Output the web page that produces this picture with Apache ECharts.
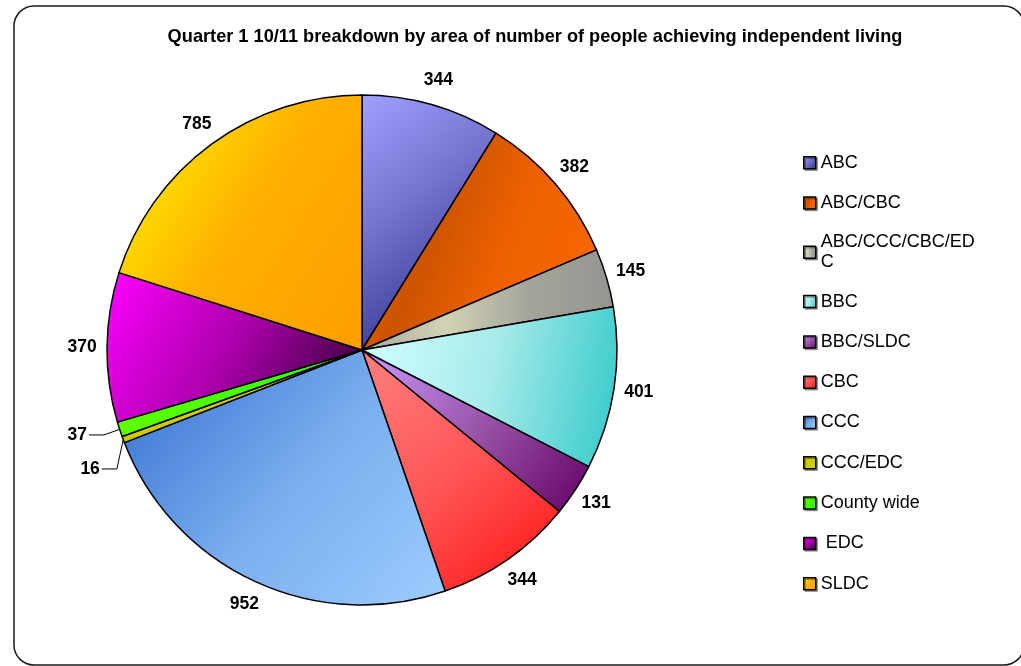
<!DOCTYPE html>
<html><head><meta charset="utf-8">
<script src="https://cdn.jsdelivr.net/npm/echarts@6/dist/echarts.min.js"></script>
<style>html,body{margin:0;padding:0;background:#fff}#c{width:1021px;height:666px}</style>
</head><body><div id="c"></div>
<script>
const titleText = 'Quarter 1 10/11 breakdown by area of number of people achieving independent living';
const categories = ['ABC', 'ABC/CBC', 'ABC/CCC/CBC/EDC', 'BBC', 'BBC/SLDC', 'CBC', 'CCC', 'CCC/EDC', 'County wide', ' EDC', 'SLDC'];
const values = [344, 382, 145, 401, 131, 344, 952, 16, 37, 370, 785];
const legendLabels = ['ABC', 'ABC/CBC', 'ABC/CCC/CBC/ED\nC', 'BBC', 'BBC/SLDC', 'CBC', 'CCC', 'CCC/EDC', 'County wide', ' EDC', 'SLDC'];

const FONT = 'Arial, "Liberation Sans", sans-serif';
const G = (x, y, x2, y2, stops) => new echarts.graphic.LinearGradient(x, y, x2, y2,
  stops.map((c, i) => ({ offset: i / (stops.length - 1), color: c })));
const fills = [
  G(0, 0, 1, 0.7, ['#a0a0ff', '#7474d0', '#3a3a98']),
  G(0, 0.2, 1, 0.6, ['#ec6200', '#cc5400', '#f06200', '#f56600']),
  G(0, 0.5, 1, 0.5, ['#a8a8a0', '#d2d2b4', '#a4a49c', '#959590']),
  G(0, 0.3, 1, 0.6, ['#d0ffff', '#a8eaea', '#3ccccc']),
  G(0, 0, 1, 1, ['#cc99ff', '#9955aa', '#660066']),
  G(0, 0, 1, 1, ['#ff8080', '#ff5555', '#ff1010']),
  G(0.1, 0, 1, 1, ['#3b74d4', '#7aaeee', '#9ccdff']),
  G(0, 0, 1, 1, ['#cccc00', '#cccc00']),
  G(0, 0, 1, 1, ['#66ff00', '#22ff00']),
  G(0, 0, 1, 1, ['#ff00ff', '#aa00aa', '#2a002a']),
  G(0, 0.2, 1, 0.8, ['#fff000', '#ffb000', '#ffa000'])
];

const total = values.reduce((a, b) => a + b, 0);
const isSmall = values.map(v => v / total < 0.02);

const data = categories.map((name, i) => ({
  name: name,
  value: values[i],
  itemStyle: { color: fills[i] },
  label: isSmall[i] ? { lineHeight: 32, distanceToLabelLine: 2 } : { distanceToLabelLine: 0 },
  labelLine: isSmall[i] ? { show: true, length: 18, length2: 15 } : { show: false, length: 25, length2: 0 }
}));

const chart = echarts.init(document.getElementById('c'), null, { renderer: 'canvas' });
chart.setOption({
  animation: false,
  backgroundColor: '#fff',
  graphic: [{
    type: 'rect', silent: true, z: -1,
    shape: { x: 14, y: 6, width: 1010, height: 659, r: 20 },
    style: { fill: 'none', stroke: '#1a1a1a', lineWidth: 1.5 }
  }],
  title: {
    text: titleText, left: 530, top: 23, textAlign: 'center',
    textStyle: { fontFamily: FONT, fontSize: 18.2, fontWeight: 'bold', color: '#000' }
  },
  legend: {
    orient: 'vertical', left: 803, top: 152.7, padding: 0,
    itemWidth: 12, itemHeight: 12, itemGap: 20.3, icon: 'rect',
    data: categories,
    formatter: name => legendLabels[categories.indexOf(name)],
    itemStyle: { borderColor: '#000', borderWidth: 1.5, shadowColor: 'rgba(0,0,0,0.35)', shadowBlur: 0, shadowOffsetX: 1.5, shadowOffsetY: 1.5 },
    textStyle: { fontFamily: FONT, fontSize: 18, color: '#000', lineHeight: 20, height: 20 },
    selectedMode: false
  },
  series: [{
    type: 'pie',
    center: [362, 350], radius: 255,
    startAngle: 90, clockwise: true,
    avoidLabelOverlap: true,
    emphasis: { disabled: true },
    itemStyle: { borderColor: '#000', borderWidth: 1.5 },
    label: {
      show: true, position: 'outside', formatter: '{c}',
      fontFamily: FONT, fontSize: 17.5, fontWeight: 'bold', color: '#000'
    },
    labelLine: { lineStyle: { color: '#000', width: 1 } },
    labelLayout: p => isSmall[p.dataIndex] ? {} : { align: 'center' },
    data: data
  }]
});
</script></body></html>
